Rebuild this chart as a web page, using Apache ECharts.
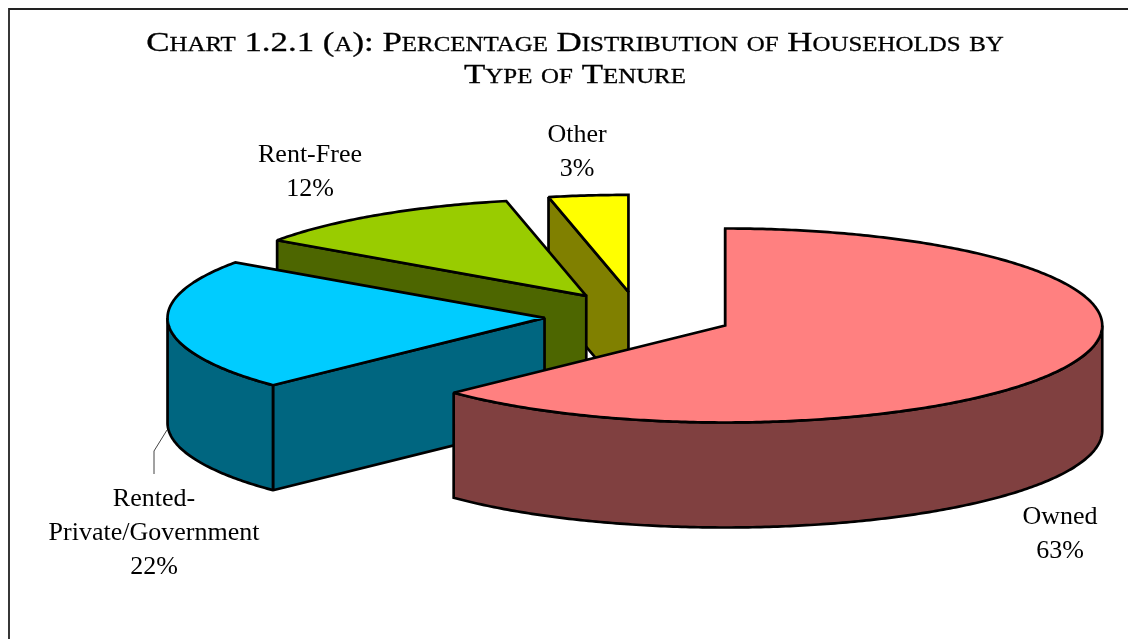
<!DOCTYPE html>
<html>
<head>
<meta charset="utf-8">
<style>html,body{margin:0;padding:0;background:#fff}#c{width:1128px;height:639px}</style>
<script src="https://cdn.jsdelivr.net/npm/echarts@6/dist/echarts.min.js"></script>
</head>
<body>
<div id="c"></div>
<script>
const titleLines = ['Chart 1.2.1 (a): Percentage Distribution of Households by', 'Type of Tenure'];
const categories = ['Owned', 'Rented-Private/Government', 'Rent-Free', 'Other'];
const shares = [62.8, 21.9, 11.9, 3.4];
const topColors = ['#ff8080', '#00ccff', '#99cc00', '#ffff00'];
const sideColors = ['#804040', '#006680', '#4d6600', '#808000'];

const pie = { cx: 638.5, cy: 316, rx: 377, ry: 97, depth: 105, explode: 0.25 };
const labelAnchors = [[1060, 534], [154, 533], [310, 172.5], [577, 152]];

const total = shares.reduce((a, b) => a + b, 0);
const starts = [];
shares.reduce((acc, v, i) => { starts[i] = acc; return acc + v; }, 0);

function toAngle(v) { return v / total * Math.PI * 2; }
function rim(cx, cy, a) { return [cx + pie.rx * Math.sin(a), cy - pie.ry * Math.cos(a)]; }
function arc(cx, cy, a0, a1) {
  const pts = [], n = Math.max(2, Math.ceil((a1 - a0) * 90));
  for (let k = 0; k <= n; k++) pts.push(rim(cx, cy, a0 + (a1 - a0) * k / n));
  return pts;
}
const stroke = { stroke: '#000', lineWidth: 2.7, lineJoin: 'miter', miterLimit: 1.5 };

function renderSlice(params, api) {
  const i = params.dataIndex;
  const v = api.value(0);
  const a0 = toAngle(starts[i]), a1 = toAngle(starts[i] + v);
  const mid = (a0 + a1) / 2;
  const cx = pie.cx + pie.explode * pie.rx * Math.sin(mid);
  const cy = pie.cy - pie.explode * pie.ry * Math.cos(mid);
  const z = (categories.length - i) * 10;
  const children = [];
  const s0 = rim(cx, cy, a0);
  children.push({
    type: 'polygon', z2: z,
    shape: { points: [s0, [cx, cy], [cx, cy + pie.depth], [s0[0], s0[1] + pie.depth]] },
    style: Object.assign({ fill: sideColors[i] }, stroke)
  });
  const w0 = Math.max(a0, Math.PI / 2), w1 = Math.min(a1, Math.PI * 1.5);
  if (w1 > w0) {
    const upper = arc(cx, cy, w0, w1);
    const lower = upper.map(p => [p[0], p[1] + pie.depth]).reverse();
    children.push({
      type: 'polygon', z2: z + 1,
      shape: { points: upper.concat(lower) },
      style: Object.assign({ fill: sideColors[i] }, stroke)
    });
  }
  children.push({
    type: 'polygon', z2: z + 2,
    shape: { points: [[cx, cy]].concat(arc(cx, cy, a0, a1)) },
    style: Object.assign({ fill: topColors[i] }, stroke)
  });
  const a = labelAnchors[i];
  children.push({
    type: 'text', z2: 100, x: a[0], y: a[1],
    style: {
      text: categories[i].replace('Rented-', 'Rented-\n') + '\n' + Math.round(v) + '%',
      fill: '#000', font: '26px "Liberation Serif"',
      align: 'center', verticalAlign: 'middle', lineHeight: 34
    }
  });
  return { type: 'group', children };
}

const chart = echarts.init(document.getElementById('c'), null, { renderer: 'canvas' });
chart.setOption({
  animation: false,
  backgroundColor: '#fff',
  graphic: [
    { type: 'text', x: 575, y: 60, scaleX: 1.245,
      style: { text: titleLines.join('\n'), font: 'small-caps 28px "Liberation Serif"', fill: '#000',
               stroke: '#000', lineWidth: 0.3,
               align: 'center', verticalAlign: 'middle', lineHeight: 32 } },
    { type: 'polyline', shape: { points: [[9, 639], [9, 9], [1128, 9]] },
      style: { fill: null, stroke: '#222', lineWidth: 1.8 } },
    { type: 'polyline', shape: { points: [[167, 430], [154, 451], [154, 474]] }, z: 1,
      style: { fill: null, stroke: '#444', lineWidth: 1 } }
  ],
  series: [{
    type: 'custom',
    coordinateSystem: 'none',
    clip: false,
    silent: true,
    renderItem: renderSlice,
    data: shares.map(v => [v])
  }]
});
</script>
</body>
</html>
